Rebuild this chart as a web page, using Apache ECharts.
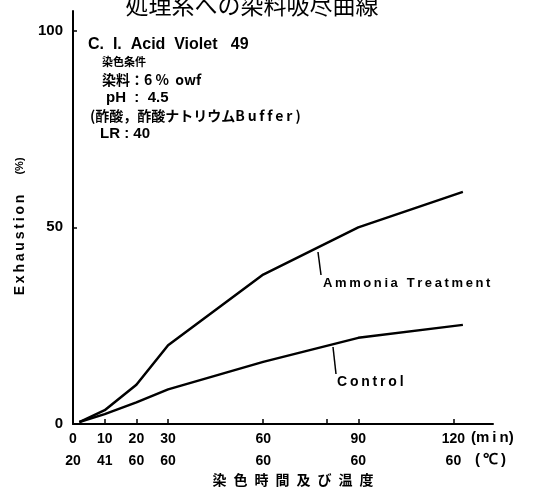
<!DOCTYPE html>
<html><head><meta charset="utf-8">
<script src="https://cdn.jsdelivr.net/npm/echarts@6/dist/echarts.min.js"></script>
<style>html,body{margin:0;padding:0;background:#fff}#c{width:534px;height:495px}</style>
</head><body><div id="c"></div>
<script>
// Data
const times   = [2, 10, 20, 30, 60, 90, 123];
const ammonia = [0.5, 3.5, 10, 20, 38, 50, 59];
const control = [0.5, 2.5, 5.5, 8.8, 15.8, 21.9, 25.2];
const xTickValues  = [10, 20, 30, 60, 80, 90, 120];
const xLabelValues = [0, 10, 20, 30, 60, 90, 120];
const xLabelTime   = ['0', '10', '20', '30', '60', '90', '120'];
const xLabelTemp   = ['20', '41', '60', '60', '60', '60', '60'];
const yLabelValues = [0, 50, 100];

const FONT = 'Liberation Sans';
const chart = echarts.init(document.getElementById('c'), null, {renderer: 'canvas'});
const pair = (arr) => times.map((t, i) => [t, arr[i]]);
const T = '\u2009';

chart.setOption({
  animation: false,
  backgroundColor: '#fff',
  grid: {left: 73, right: 41, top: 11, bottom: 71, containLabel: false},
  xAxis: {
    type: 'value', min: 0, max: 132.5,
    axisLine: {lineStyle: {color: '#000', width: 2}},
    axisTick: {show: true, inside: true, length: 5, customValues: xTickValues, lineStyle: {color: '#000', width: 1.5}},
    splitLine: {show: false},
    axisLabel: {
      customValues: xLabelValues, margin: 4,
      color: '#000', fontFamily: FONT, fontWeight: 'bold', fontSize: 14, lineHeight: 22,
      formatter: (v) => {
        const i = xLabelValues.indexOf(v);
        return i < 0 ? '' : xLabelTime[i] + '\n' + xLabelTemp[i];
      }
    }
  },
  yAxis: {
    type: 'value', min: 0, max: 105,
    axisLine: {show: true, lineStyle: {color: '#000', width: 2}},
    axisTick: {show: true, inside: true, length: 4, customValues: [50, 100], lineStyle: {color: '#000', width: 1.5}},
    splitLine: {show: false},
    axisLabel: {customValues: yLabelValues, margin: 10, color: '#000', fontFamily: FONT, fontWeight: 'bold', fontSize: 15}
  },
  series: [
    {name: 'Ammonia Treatment', type: 'line', data: pair(ammonia), symbol: 'none',
     lineStyle: {color: '#000', width: 2.5}},
    {name: 'Control', type: 'line', data: pair(control), symbol: 'none',
     lineStyle: {color: '#000', width: 2.5}}
  ],
  graphic: [
    {type: 'text', x: 252, y: 5, style: {text: '処理系への染料吸尽曲線', font: '23px "Noto Sans CJK JP"', fill: '#000', textAlign: 'center', textVerticalAlign: 'middle'}},
    {type: 'text', x: 88, y: 45, style: {text: 'C.  I.  Acid  Violet   49', font: 'bold 16px "Liberation Sans"', fill: '#000', textVerticalAlign: 'middle'}},
    {type: 'text', x: 102, y: 62, style: {text: '染色条件', font: 'bold 11px "Noto Sans CJK JP"', fill: '#000', textVerticalAlign: 'middle'}},
    {type: 'text', x: 102, y: 80, style: {text: '染料：6 %  owf', font: 'bold 14px "Noto Sans CJK JP"', fill: '#000', textVerticalAlign: 'middle'}},
    {type: 'text', x: 106, y: 98, style: {text: 'pH  :  4.5', font: 'bold 15px "Liberation Sans"', fill: '#000', textVerticalAlign: 'middle'}},
    {type: 'text', x: 90, y: 116, style: {text: '(酢酸，酢酸ナトリウムB' + T + 'u' + T + 'f' + T + 'f' + T + 'e' + T + 'r )', font: 'bold 14px "Noto Sans CJK JP"', fill: '#000', textVerticalAlign: 'middle'}},
    {type: 'text', x: 100, y: 134, style: {text: 'LR : 40', font: 'bold 15px "Liberation Sans"', fill: '#000', textVerticalAlign: 'middle'}},
    {type: 'text', x: 20, y: 245, rotation: Math.PI / 2, style: {text: ['E','x','h','a','u','s','t','i','o','n'].join(T), font: 'bold 14px "Liberation Sans"', fill: '#000', textAlign: 'center', textVerticalAlign: 'middle'}},
    {type: 'text', x: 20, y: 166, rotation: Math.PI / 2, style: {text: '(%)', font: 'bold 11px "Liberation Sans"', fill: '#000', textAlign: 'center', textVerticalAlign: 'middle'}},
    {type: 'text', x: 471, y: 438, style: {text: '(m' + T + 'i' + T + 'n)', font: 'bold 15px "Liberation Sans"', fill: '#000', textVerticalAlign: 'middle'}},
    {type: 'text', x: 475, y: 460, style: {text: '(' + T + '℃' + T + ')', font: 'bold 15px "Liberation Sans"', fill: '#000', textVerticalAlign: 'middle'}},
    {type: 'text', x: 293, y: 480, style: {text: '染\u2002色\u2002時\u2002間\u2002及\u2002び\u2002温\u2002度', font: 'bold 14px "Noto Sans CJK JP"', fill: '#000', textAlign: 'center', textVerticalAlign: 'middle'}},
    {type: 'line', shape: {x1: 318, y1: 252, x2: 321, y2: 275}, style: {stroke: '#000', lineWidth: 1.5}},
    {type: 'text', x: 323, y: 283, style: {text: ['A','m','m','o','n','i','a',' ','T','r','e','a','t','m','e','n','t'].join(T), font: 'bold 13px "Liberation Sans"', fill: '#000', textVerticalAlign: 'middle'}},
    {type: 'line', shape: {x1: 333, y1: 347, x2: 336, y2: 374}, style: {stroke: '#000', lineWidth: 1.5}},
    {type: 'text', x: 337, y: 382, style: {text: ['C','o','n','t','r','o','l'].join(T), font: 'bold 14px "Liberation Sans"', fill: '#000', textVerticalAlign: 'middle'}}
  ]
});
</script></body></html>
